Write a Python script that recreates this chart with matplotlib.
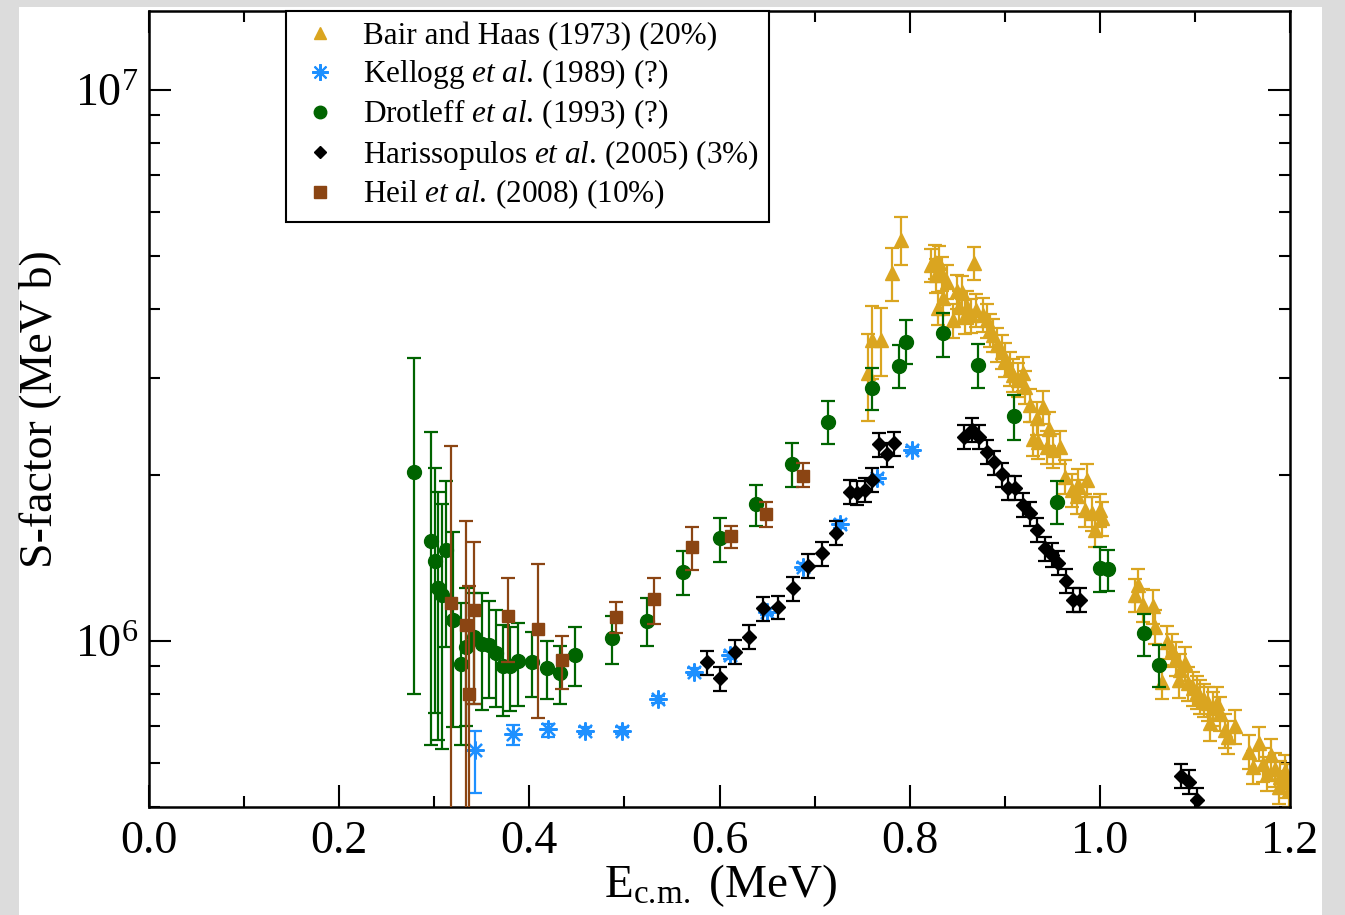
import numpy as np
import matplotlib.pyplot as plt
from matplotlib.lines import Line2D
from matplotlib.patches import Rectangle

plt.rcParams["font.family"] = ["Liberation Serif", "DejaVu Serif"]
plt.rcParams["mathtext.fontset"] = "custom"
plt.rcParams["mathtext.rm"] = "Liberation Serif"
plt.rcParams["mathtext.it"] = "Liberation Serif:italic"

# Bair and Haas (1973)
bh_x = [0.7559, 0.7604, 0.7702, 0.7811, 0.7909, 0.8224, 0.8266, 0.8312, 0.8280, 0.8336,
        0.8301, 0.8354, 0.8396, 0.8459, 0.8495, 0.8547, 0.8523, 0.8600, 0.8582, 0.8677,
        0.8642, 0.8698, 0.8775, 0.8810, 0.8845, 0.8874, 0.8916, 0.8968, 0.9003, 0.9055,
        0.9090, 0.9143, 0.9195, 0.9210, 0.9266, 0.9336, 0.9400, 0.9300, 0.9353, 0.9469,
        0.9441, 0.9511, 0.9581, 0.9634, 0.9704, 0.9774, 0.9757, 0.9862, 0.9845, 0.9915,
        1.0002, 0.9949, 1.0020, 1.0405, 1.0370, 1.0458, 1.0555, 1.0580, 1.0650, 1.0703,
        1.0756, 1.0801, 1.0843, 1.0896, 1.0830, 1.0930, 1.0976, 1.1019, 1.1054, 1.1096,
        1.1141, 1.1187, 1.1230, 1.1159, 1.1265, 1.1317, 1.1352, 1.1423, 1.1573, 1.1678,
        1.1614, 1.1720, 1.1798, 1.1755, 1.1843, 1.1895, 1.1948, 1.1880, 1.1993, 1.1965]
bh_y = [3.06e6, 3.52e6, 3.52e6, 4.65e6, 5.34e6, 4.81e6, 4.88e6, 4.86e6, 4.61e6, 4.64e6,
        4.02e6, 4.19e6, 4.49e6, 3.82e6, 4.31e6, 4.29e6, 4.04e6, 4.04e6, 3.88e6, 4.85e6,
        3.90e6, 3.99e6, 3.91e6, 3.82e6, 3.67e6, 3.59e6, 3.45e6, 3.35e6, 3.24e6, 3.12e6,
        3.04e6, 2.98e6, 3.06e6, 2.89e6, 2.68e6, 2.54e6, 2.66e6, 2.33e6, 2.30e6, 2.43e6,
        2.25e6, 2.22e6, 2.25e6, 1.987e6, 1.88e6, 1.92e6, 1.83e6, 1.96e6, 1.73e6, 1.705e6,
        1.73e6, 1.59e6, 1.67e6, 1.264e6, 1.212e6, 1.162e6, 1.157e6, 1.062e6, 8.44e5, 9.97e5,
        9.63e5, 9.30e5, 8.86e5, 9.11e5, 8.49e5, 8.38e5, 8.21e5, 8.09e5, 7.93e5, 7.82e5,
        7.71e5, 7.55e5, 7.71e5, 7.09e5, 7.40e5, 6.89e5, 6.70e5, 7.00e5, 6.30e5, 6.52e5,
        5.91e5, 5.98e5, 6.21e5, 5.75e5, 5.85e5, 5.67e5, 5.80e5, 5.44e5, 5.37e5, 5.59e5]
bh_rel = [0.18, 0.15, 0.14, 0.11, 0.10] + [0.07] * 85

# Kellogg et al. (1989)
ke_x = [0.3429, 0.3825, 0.4200, 0.4586, 0.4971, 0.5350, 0.5735, 0.6110, 0.6497, 0.6875,
        0.7267, 0.7653, 0.8028]
ke_y = [6.34e5, 6.77e5, 6.92e5, 6.88e5, 6.88e5, 7.84e5, 8.80e5, 9.43e5, 1.13e6, 1.364e6,
        1.631e6, 1.974e6, 2.22e6]
ke_hi = [6.88e5, 7.04e5, 7.08e5, 6.98e5, 6.98e5, 7.96e5, 8.93e5, 9.57e5, 1.147e6, 1.385e6,
         1.655e6, 2.004e6, 2.25e6]
ke_lo = [5.30e5, 6.48e5, 6.69e5, 6.78e5, 6.78e5, 7.72e5, 8.67e5, 9.29e5, 1.113e6, 1.343e6,
         1.607e6, 1.944e6, 2.19e6]

# Drotleff et al. (1993)
dr_x = [0.279, 0.2966, 0.3008, 0.3043, 0.3078, 0.312, 0.320, 0.328, 0.3334, 0.3418,
        0.3506, 0.3576, 0.3646, 0.3726, 0.3797, 0.3878, 0.4025, 0.4183, 0.4323, 0.448,
        0.4866, 0.5234, 0.562, 0.6005, 0.638, 0.676, 0.7138, 0.760, 0.7891, 0.7962,
        0.8348, 0.8716, 0.9098, 0.9547, 1.0002, 1.009, 1.0468, 1.0622]
dr_y = [2.03e6, 1.52e6, 1.40e6, 1.25e6, 1.21e6, 1.46e6, 1.09e6, 9.08e5, 9.74e5, 1.016e6,
        9.88e5, 9.83e5, 9.50e5, 9.01e5, 9.01e5, 9.20e5, 9.17e5, 8.95e5, 8.74e5, 9.43e5,
        1.011e6, 1.087e6, 1.336e6, 1.536e6, 1.771e6, 2.096e6, 2.50e6, 2.874e6, 3.16e6, 3.49e6,
        3.62e6, 3.17e6, 2.56e6, 1.79e6, 1.355e6, 1.35e6, 1.033e6, 9.04e5]
dr_hi = [3.26e6, 2.39e6, 2.06e6, 1.86e6, 1.77e6, 1.95e6, 1.58e6, 1.17e6, 1.25e6, 1.22e6,
         1.22e6, 1.18e6, 1.14e6, 1.07e6, 1.06e6, 1.08e6, 1.04e6, 1.0e6, 9.79e5, 1.06e6,
         1.11e6, 1.196e6, 1.457e6, 1.674e6, 1.92e6, 2.285e6, 2.73e6, 3.13e6, 3.45e6, 3.82e6,
         3.94e6, 3.46e6, 2.79e6, 1.95e6, 1.483e6, 1.46e6, 1.119e6, 9.83e5]
dr_lo = [8.0e5, 6.49e5, 7.41e5, 6.61e5, 6.37e5, 9.77e5, 6.97e5, 6.49e5, 7.02e5, 7.69e5,
         7.50e5, 7.87e5, 7.60e5, 7.30e5, 7.46e5, 7.64e5, 7.93e5, 7.86e5, 7.69e5, 8.28e5,
         9.08e5, 9.79e5, 1.212e6, 1.393e6, 1.617e6, 1.90e6, 2.28e6, 2.63e6, 2.88e6, 3.18e6,
         3.28e6, 2.88e6, 2.32e6, 1.63e6, 1.229e6, 1.232e6, 9.40e5, 8.26e5]

# Harissopulos et al. (2005)
ha_x = [0.5865, 0.6005, 0.6163, 0.6314, 0.6460, 0.6619, 0.6770, 0.6928, 0.7075, 0.7226,
        0.7373, 0.7450, 0.7530, 0.7600, 0.7680, 0.7765, 0.7835, 0.8575, 0.8652, 0.8730,
        0.8810, 0.8887, 0.8968, 0.9038, 0.9108, 0.9189, 0.9266, 0.9343, 0.9424, 0.9494,
        0.9563, 0.9641, 0.9722, 0.9792, 1.0854, 1.0941, 1.1019]
ha_y = [9.15e5, 8.56e5, 9.56e5, 1.018e6, 1.146e6, 1.152e6, 1.246e6, 1.37e6, 1.443e6, 1.573e6,
        1.866e6, 1.858e6, 1.88e6, 1.96e6, 2.275e6, 2.18e6, 2.285e6, 2.349e6, 2.415e6, 2.349e6,
        2.206e6, 2.11e6, 2.007e6, 1.898e6, 1.895e6, 1.765e6, 1.705e6, 1.59e6, 1.473e6, 1.432e6,
        1.387e6, 1.285e6, 1.187e6, 1.187e6, 5.69e5, 5.56e5, 5.15e5]
ha_rel = 0.05

# Heil et al. (2008)
he_x = [0.3176, 0.3334, 0.3366, 0.3422, 0.3772, 0.4095, 0.4340, 0.4908, 0.5314, 0.5708,
        0.6121, 0.6490, 0.6875]
he_y = [1.17e6, 1.07e6, 8.0e5, 1.14e6, 1.112e6, 1.05e6, 9.24e5, 1.107e6, 1.19e6, 1.483e6,
        1.551e6, 1.70e6, 1.995e6]
he_hi = [2.26e6, 1.65e6, 1.26e6, 1.51e6, 1.30e6, 1.378e6, 1.022e6, 1.178e6, 1.30e6, 1.61e6,
         1.62e6, 1.785e6, 2.10e6]
he_lo = [3.0e5, 3.0e5, 3.0e5, 7.69e5, 9.17e5, 7.24e5, 8.18e5, 1.035e6, 1.076e6, 1.346e6,
         1.477e6, 1.609e6, 1.90e6]

# mathtext already puts a small space after the final "." of "al."
labels = [
    "Bair and Haas (1973) (20%)",
    r"Kellogg $\mathit{et\ al.}\,$(1989) (?)",
    r"Drotleff $\mathit{et\ al.}\,$(1993) (?)",
    r"Harissopulos $\mathit{et\ al.}\,$(2005) (3%)",
    r"Heil $\mathit{et\ al.}\,$(2008) (10%)",
]

GOLD = "#DAA520"
BLUE = "#1E90FF"
GREEN = "#006400"
BLACK = "#000000"
BROWN = "#8B4513"


def bounds_to_err(y, hi, lo):
    y = np.asarray(y)
    return np.vstack([y - np.asarray(lo), np.asarray(hi) - y])


def rel_err(y, rel):
    y = np.asarray(y)
    rel = np.asarray(rel)
    return np.vstack([y * rel, y * rel])


fig = plt.figure(figsize=(13.45, 9.15), dpi=100, facecolor="#dcdcdc")
fig.patches.append(Rectangle((19 / 1345, 0), (1322 - 19) / 1345, 1 - 7 / 915,
                             transform=fig.transFigure, facecolor="white",
                             edgecolor="none", zorder=-10))
ax = fig.add_axes([149 / 1345, 1 - 807 / 915, (1290 - 149) / 1345, (807 - 11) / 915])
ax.set_zorder(1)

eb = dict(linestyle="none", elinewidth=1.6, capsize=5, capthick=1.6)

ax.errorbar(bh_x, bh_y, yerr=rel_err(bh_y, bh_rel), marker="^", ms=10.5, color=GOLD,
            ecolor=GOLD, zorder=2, **eb)
ax.errorbar(ke_x, ke_y, yerr=bounds_to_err(ke_y, ke_hi, ke_lo), marker=(8, 2, 0), ms=13,
            mew=1.6, color=BLUE, ecolor=BLUE, zorder=3, **eb)
ax.errorbar(ha_x, ha_y, yerr=rel_err(ha_y, ha_rel), marker="D", ms=7, color=BLACK,
            ecolor=BLACK, zorder=4, **eb)
ax.errorbar(dr_x, dr_y, yerr=bounds_to_err(dr_y, dr_hi, dr_lo), marker="o", ms=10,
            color=GREEN, ecolor=GREEN, zorder=5, **eb)
ax.errorbar(he_x, he_y, yerr=bounds_to_err(he_y, he_hi, he_lo), marker="s", ms=9,
            color=BROWN, ecolor=BROWN, zorder=6, **eb)

ax.set_yscale("log")
ax.set_xlim(0.0, 1.2)
ax.set_ylim(5.0e5, 1.39e7)
ax.set_xticks(np.arange(0.0, 1.21, 0.2))
ax.set_xticks(np.arange(0.1, 1.2, 0.2), minor=True)
ax.set_xticklabels([f"{v:.1f}" for v in np.arange(0.0, 1.21, 0.2)])
ax.set_yticks([1e6, 1e7])
ax.set_yticklabels([r"$10^{6}$", r"$10^{7}$"])
ax.tick_params(which="both", direction="in", top=True, right=True, width=1.5,
               labelsize=33)
ax.tick_params(which="major", length=16, pad=10)
ax.tick_params(which="minor", length=8, labelleft=False)
ax.tick_params(axis="y", which="major", pad=8)
for sp in ax.spines.values():
    sp.set_linewidth(1.8)

fig.text(721 / 1345, 1 - 897 / 915, r"E$_{\mathrm{c.\!m.}}$ (MeV)", ha="center",
         va="baseline", fontsize=34)
fig.text(40 / 1345, 1 - 409 / 915, "S-factor (MeV b)", rotation=90, ha="center",
         va="center", fontsize=33)

handles = [
    Line2D([], [], ls="none", marker="^", ms=9, color=GOLD),
    Line2D([], [], ls="none", marker=(8, 2, 0), ms=12, mew=1.5, color=BLUE),
    Line2D([], [], ls="none", marker="o", ms=9, color=GREEN),
    Line2D([], [], ls="none", marker="D", ms=6, color=BLACK),
    Line2D([], [], ls="none", marker="s", ms=8, color=BROWN),
]
leg = ax.legend(handles, labels, loc="upper left", bbox_to_anchor=((286 - 149) / 1141, 1.0),
                borderaxespad=0, fontsize=22.5, frameon=True, fancybox=False,
                framealpha=1, edgecolor="black", borderpad=0.35, handlelength=1.45,
                handletextpad=0.65, labelspacing=0.2)
leg.get_frame().set_linewidth(1.5)
leg.set_zorder(10)

fig.savefig("out.png", dpi=100, facecolor=fig.get_facecolor())
